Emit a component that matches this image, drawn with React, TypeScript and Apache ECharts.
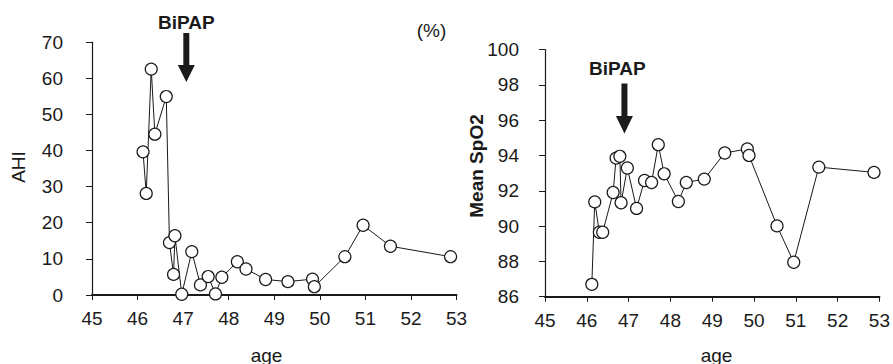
import React, { useEffect, useRef } from "react";
import * as echarts from "echarts";

const ages = [46.12, 46.19, 46.3, 46.38, 46.63, 46.7, 46.79, 46.82, 46.97, 47.19, 47.38, 47.55, 47.71, 47.85, 48.19, 48.38, 48.81, 49.3, 49.84, 49.88, 50.55, 50.95, 51.55, 52.87];
const ahi = [39.6, 28.1, 62.5, 44.5, 54.9, 14.5, 5.7, 16.4, 0.2, 12.0, 2.8, 5.1, 0.3, 4.9, 9.2, 7.2, 4.3, 3.7, 4.4, 2.3, 10.6, 19.3, 13.5, 10.6];
const spo2 = [86.7, 91.37, 89.65, 89.65, 91.9, 93.85, 93.95, 91.32, 93.29, 91.0, 92.58, 92.47, 94.61, 92.96, 91.39, 92.47, 92.66, 94.14, 94.37, 94.0, 90.01, 87.95, 93.34, 93.04];
const bipapAgeLeft = 47.07;
const bipapAgeRight = 46.9;
const xRange = [45, 53];
const ahiRange = [0, 70, 10];
const spoRange = [86, 100, 2];

const FONT = "'Liberation Sans', Arial, Helvetica, sans-serif";
const INK = "#1a1a1a";

export default function App() {
  const ref = useRef<HTMLDivElement>(null);
  useEffect(() => {
    if (!ref.current) return;
    const chart = echarts.init(ref.current, undefined, { renderer: "svg" });
    const xAxisBase = (gridIndex: number) => ({
      type: "value",
      gridIndex,
      min: xRange[0],
      max: xRange[1],
      interval: 1,
      axisLine: { show: true, onZero: false, lineStyle: { color: INK, width: 2 } },
      axisTick: { show: true, inside: false, length: 5, lineStyle: { color: INK, width: 1 } },
      axisLabel: { color: INK, fontSize: 19, fontFamily: FONT, margin: 14 },
      splitLine: { show: false },
    });
    const yAxisBase = (gridIndex: number, r: number[], margin: number) => ({
      type: "value",
      gridIndex,
      min: r[0],
      max: r[1],
      interval: r[2],
      axisLine: { show: true, lineStyle: { color: INK, width: 1.2 } },
      axisTick: { show: true, inside: false, length: 6, lineStyle: { color: INK, width: 1 } },
      axisLabel: { color: INK, fontSize: 19, fontFamily: FONT, margin },
      splitLine: { show: false },
    });
    const seriesBase = {
      type: "line",
      symbol: "circle",
      symbolSize: 12,
      clip: false,
      lineStyle: { color: INK, width: 1 },
      itemStyle: { color: "#ffffff", borderColor: INK, borderWidth: 1.2 },
    };
    chart.setOption({
      animation: false,
      grid: [
        { left: 92, right: 436.5, top: 42, bottom: 69 },
        { left: 545, right: 8.5, top: 49.5, bottom: 67.3 },
      ],
      xAxis: [xAxisBase(0), xAxisBase(1)],
      yAxis: [yAxisBase(0, ahiRange, 29), yAxisBase(1, spoRange, 26)],
      series: [
        { ...seriesBase, xAxisIndex: 0, yAxisIndex: 0, data: ages.map((a, i) => [a, ahi[i]]) },
        { ...seriesBase, xAxisIndex: 1, yAxisIndex: 1, data: ages.map((a, i) => [a, spo2[i]]) },
      ],
    });

    const lx = chart.convertToPixel({ xAxisIndex: 0, yAxisIndex: 0 }, [bipapAgeLeft, 0])[0];
    const rx = chart.convertToPixel({ xAxisIndex: 1, yAxisIndex: 1 }, [bipapAgeRight, 90])[0];
    const arrow = (cx: number, top: number, headTop: number, tip: number) => ({
      type: "polygon",
      shape: {
        points: [
          [cx - 3, top],
          [cx + 3, top],
          [cx + 3, headTop],
          [cx + 8.5, headTop],
          [cx, tip],
          [cx - 8.5, headTop],
          [cx - 3, headTop],
        ],
      },
      style: { fill: INK },
    });
    const txt = (x: number, y: number, text: string, bold: boolean, rot = 0) => ({
      type: "text",
      x,
      y,
      rotation: rot,
      style: {
        text,
        x: 0,
        y: 0,
        fill: INK,
        font: `${bold ? "bold " : ""}19px ${FONT}`,
        align: "center",
        verticalAlign: "middle",
      },
    });
    chart.setOption({
      graphic: [
        arrow(lx, 33, 65, 82),
        arrow(rx, 83.5, 116, 133.5),
        txt(lx, 22, "BiPAP", true),
        txt(rx - 7, 68.5, "BiPAP", true),
        txt(431.5, 30.5, "(%)", false),
        txt(18, 167, "AHI", false, Math.PI / 2),
        txt(476.5, 166, "Mean SpO2", true, Math.PI / 2),
        txt(266.5, 355, "age", false),
        txt(716.5, 355, "age", false),
      ],
    });
    return () => chart.dispose();
  }, []);
  return (
    <div
      ref={ref}
      style={{ position: "fixed", left: 0, top: 0, width: 893, height: 364, background: "#fff" }}
    />
  );
}
